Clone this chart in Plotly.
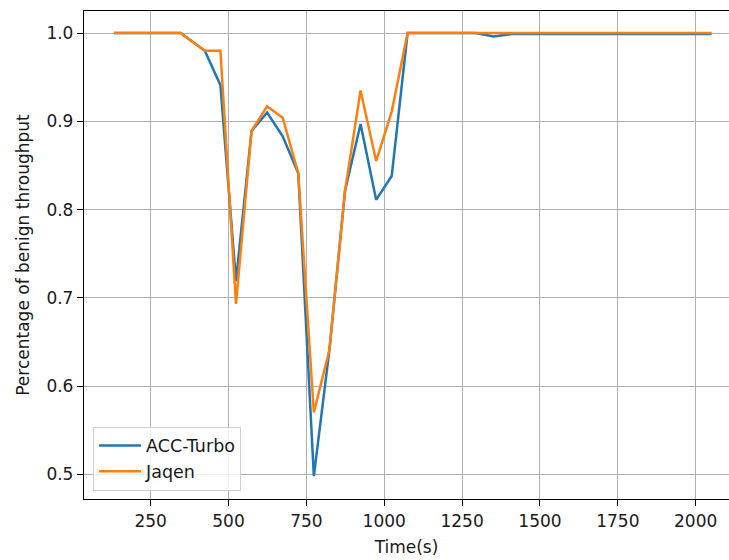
import plotly.graph_objects as go

# Data
time_acc = [132, 346, 424, 474, 524, 574, 624, 674, 724, 774, 824, 874, 924, 974, 1024, 1075, 1293, 1352, 1411, 2051]
acc_turbo = [1.0, 1.0, 0.98, 0.941, 0.719, 0.889, 0.910, 0.883, 0.841, 0.498, 0.641, 0.821, 0.897, 0.811, 0.838, 1.0, 1.0, 0.996, 0.999, 0.999]

time_jaq = [132, 346, 424, 474, 524, 574, 624, 674, 724, 774, 824, 874, 924, 974, 1024, 1075, 2051]
jaqen = [1.0, 1.0, 0.98, 0.98, 0.693, 0.889, 0.917, 0.904, 0.841, 0.570, 0.641, 0.821, 0.935, 0.855, 0.911, 1.0, 1.0]

x_ticks = [250, 500, 750, 1000, 1250, 1500, 1750, 2000]
y_ticks = [0.5, 0.6, 0.7, 0.8, 0.9, 1.0]

FONT = "DejaVu Sans"
TXT = "#1a1a1a"

fig = go.Figure()
fig.add_trace(go.Scatter(x=time_acc, y=acc_turbo, mode="lines", name="ACC-Turbo",
                         line=dict(color="#1f77b4", width=2.5)))
fig.add_trace(go.Scatter(x=time_jaq, y=jaqen, mode="lines", name="Jaqen",
                         line=dict(color="#ff7f0e", width=2.5)))

fig.update_layout(
    width=729, height=560,
    margin=dict(l=84, r=0, t=11, b=61),
    plot_bgcolor="white", paper_bgcolor="white",
    font=dict(family=FONT, size=17, color=TXT),
    showlegend=True,
    legend=dict(x=0.014, y=0.017, xanchor="left", yanchor="bottom",
                bgcolor="rgba(255,255,255,0.8)", bordercolor="#d0d0d0", borderwidth=1,
                font=dict(family=FONT, size=17.5, color=TXT),
                itemwidth=42, tracegroupgap=0),
    xaxis=dict(range=[36, 2107], tickvals=x_ticks, ticktext=[str(v) for v in x_ticks],
               showgrid=True, gridcolor="#b0b0b0", gridwidth=1.3, zeroline=False,
               showline=True, linecolor="black", linewidth=1.3, mirror=True,
               ticks="outside", ticklen=6, tickcolor="black", tickwidth=1.3,
               tickfont=dict(size=17),
               title=dict(text="Time(s)", standoff=11, font=dict(size=17))),
    yaxis=dict(range=[0.472, 1.025], tickvals=y_ticks, ticktext=[f"{v:.1f}" for v in y_ticks],
               showgrid=True, gridcolor="#b0b0b0", gridwidth=1.3, zeroline=False,
               showline=True, linecolor="black", linewidth=1.3,
               ticks="outside", ticklen=6, tickcolor="black", tickwidth=1.3,
               tickfont=dict(size=17),
               title=dict(text="Percentage of benign throughput", standoff=12, font=dict(size=17))),
)

fig.write_html("out.html")
